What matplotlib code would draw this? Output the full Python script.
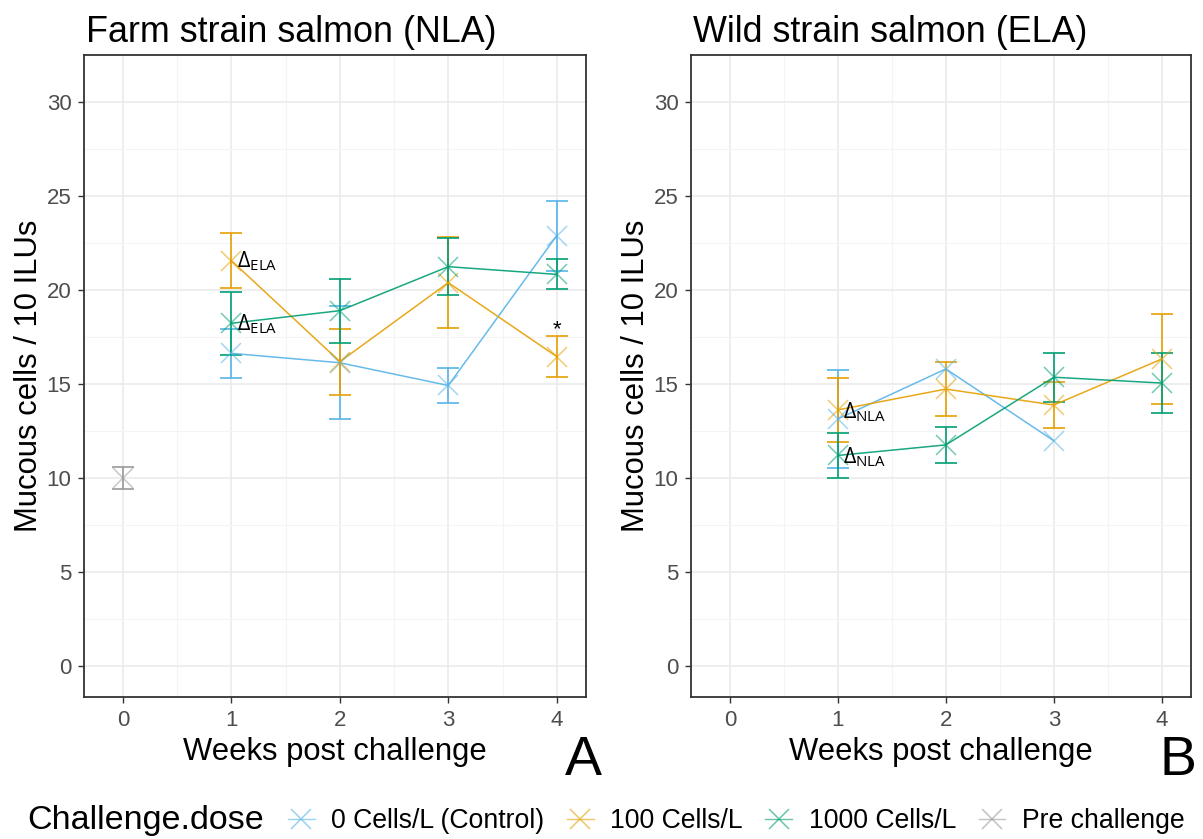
import numpy as np
import matplotlib
matplotlib.use("Agg")
import matplotlib.pyplot as plt
from matplotlib.lines import Line2D

plt.rcParams['font.family'] = ['Liberation Sans', 'DejaVu Sans']
plt.rcParams['mathtext.fontset'] = 'custom'
plt.rcParams['mathtext.rm'] = 'Open Sans'
plt.rcParams['mathtext.it'] = 'Open Sans'

# ---------------- data ----------------
weeks = [1, 2, 3, 4]
series_labels = ["0 Cells/L (Control)", "100 Cells/L", "1000 Cells/L", "Pre challenge"]
colors = ["#56B4E9", "#E69F00", "#009E73", "#999999"]

# Farm strain (NLA)
nla_ctrl_mean = [16.63, 16.13, 14.92, 22.89]
nla_ctrl_se = [1.30, 3.00, 0.95, 1.86]
nla_100_mean = [21.56, 16.19, 20.39, 16.46]
nla_100_se = [1.45, 1.76, 2.41, 1.07]
nla_1000_mean = [18.23, 18.90, 21.24, 20.83]
nla_1000_se = [1.68, 1.70, 1.50, 0.80]
pre_week = [0]
pre_mean = [10.0]
pre_se = [0.6]

# Wild strain (ELA)
ela_ctrl_mean = [13.14, 15.80, 11.98, np.nan]
ela_ctrl_se = [2.60, np.nan, np.nan, np.nan]
ela_100_mean = [13.62, 14.73, 13.88, 16.33]
ela_100_se = [1.68, 1.45, 1.20, 2.40]
ela_1000_mean = [11.20, 11.76, 15.36, 15.05]
ela_1000_se = [1.20, 0.96, 1.30, 1.60]

titles = ["Farm strain salmon (NLA)", "Wild strain salmon (ELA)"]
panel_tags = ["A", "B"]
xlabel = "Weeks post challenge"
ylabel = "Mucous cells / 10 ILUs"
legend_title = "Challenge.dose"

# annotations: (x, y, text)
nla_notes = [(1.05, 21.55, r"$\Delta_{\mathrm{ELA}}$"), (1.05, 18.2, r"$\Delta_{\mathrm{ELA}}$")]
nla_star = (4.0, 17.9, "*")
ela_notes = [(1.05, 13.5, r"$\Delta_{\mathrm{NLA}}$"), (1.05, 11.1, r"$\Delta_{\mathrm{NLA}}$")]

# ---------------- figure ----------------
W, H = 1203, 839
fig = plt.figure(figsize=(W / 100, H / 100), dpi=100)
bottom = 1 - 697 / H
height = (697 - 55) / H
ax1 = fig.add_axes([84 / W, bottom, (586 - 84) / W, height])
ax2 = fig.add_axes([691 / W, bottom, (1191 - 691) / W, height])

grid_major = "#EBEBEB"
grid_minor = "#F4F4F4"
border = "#333333"
tickc = "#4D4D4D"

def style(ax, title):
    ax.set_xlim(-0.36, 4.27)
    ax.set_ylim(-1.65, 32.5)
    ax.set_xticks([0, 1, 2, 3, 4])
    ax.set_yticks([0, 5, 10, 15, 20, 25, 30])
    ax.set_xticks([0.5, 1.5, 2.5, 3.5], minor=True)
    ax.set_yticks([2.5, 7.5, 12.5, 17.5, 22.5, 27.5], minor=True)
    ax.grid(which="major", color=grid_major, lw=1.2, zorder=0)
    ax.grid(which="minor", color=grid_minor, lw=0.8, zorder=0)
    ax.set_axisbelow(True)
    for s in ax.spines.values():
        s.set_color(border)
        s.set_linewidth(1.3)
    ax.tick_params(which="major", length=4, width=1, color=border,
                   labelsize=16, labelcolor=tickc, pad=5)
    ax.tick_params(which="minor", length=0)
    ax.set_xlabel(xlabel, fontsize=22.3, labelpad=5)
    ax.set_ylabel(ylabel, fontsize=22.3, labelpad=2)
    ax.set_title(title, fontsize=25.8, loc="left", pad=9, x=0.004)

def draw_series(ax, x, mean, se, color):
    x = np.asarray(x, float)
    mean = np.asarray(mean, float)
    se = np.asarray(se, float)
    ok = ~np.isnan(se)
    ax.errorbar(x[ok], mean[ok], yerr=se[ok], fmt="none", ecolor=color,
                elinewidth=1.4, capsize=8, capthick=1.4, alpha=0.85, zorder=3)
    m = ~np.isnan(mean)
    ax.plot(x[m], mean[m], color=color, lw=1.1, alpha=0.9, zorder=4)
    ax.plot(x[m], mean[m], ls="none", marker="x", ms=15, mew=1.1,
            color=color, alpha=0.55, zorder=5)

# left panel
draw_series(ax1, weeks, nla_ctrl_mean, nla_ctrl_se, colors[0])
draw_series(ax1, weeks, nla_100_mean, nla_100_se, colors[1])
draw_series(ax1, weeks, nla_1000_mean, nla_1000_se, colors[2])
draw_series(ax1, pre_week, pre_mean, pre_se, colors[3])
for x, y, t in nla_notes:
    ax1.text(x, y, t, fontsize=15.5, ha="left", va="center", zorder=6)
ax1.text(nla_star[0], nla_star[1], nla_star[2], fontsize=16, ha="center",
         va="center", zorder=6)
style(ax1, titles[0])

# right panel
draw_series(ax2, weeks, ela_ctrl_mean, ela_ctrl_se, colors[0])
draw_series(ax2, weeks, ela_100_mean, ela_100_se, colors[1])
draw_series(ax2, weeks, ela_1000_mean, ela_1000_se, colors[2])
for x, y, t in ela_notes:
    ax2.text(x, y, t, fontsize=15.5, ha="left", va="center", zorder=6)
style(ax2, titles[1])

# panel tags
fig.text(602 / W, 1 - 775 / H, panel_tags[0], fontsize=40, ha="right", va="baseline")
fig.text(1196 / W, 1 - 775 / H, panel_tags[1], fontsize=40, ha="right", va="baseline")

# legend
handles = [Line2D([0], [0], color=c, marker="x", ms=15, mew=1.1, lw=1.0,
                  alpha=0.6) for c in colors]
fig.text(27 / W, 1 - 821 / H, legend_title, fontsize=24.5, ha="left", va="center")
fig.legend(handles, series_labels, loc="center left",
           bbox_to_anchor=(288 / W, 1 - 821 / H), ncol=4, frameon=False,
           fontsize=19.2, handlelength=1.0, handletextpad=0.62,
           columnspacing=0.85, borderaxespad=0, borderpad=0)

fig.savefig("out.png", dpi=100)
